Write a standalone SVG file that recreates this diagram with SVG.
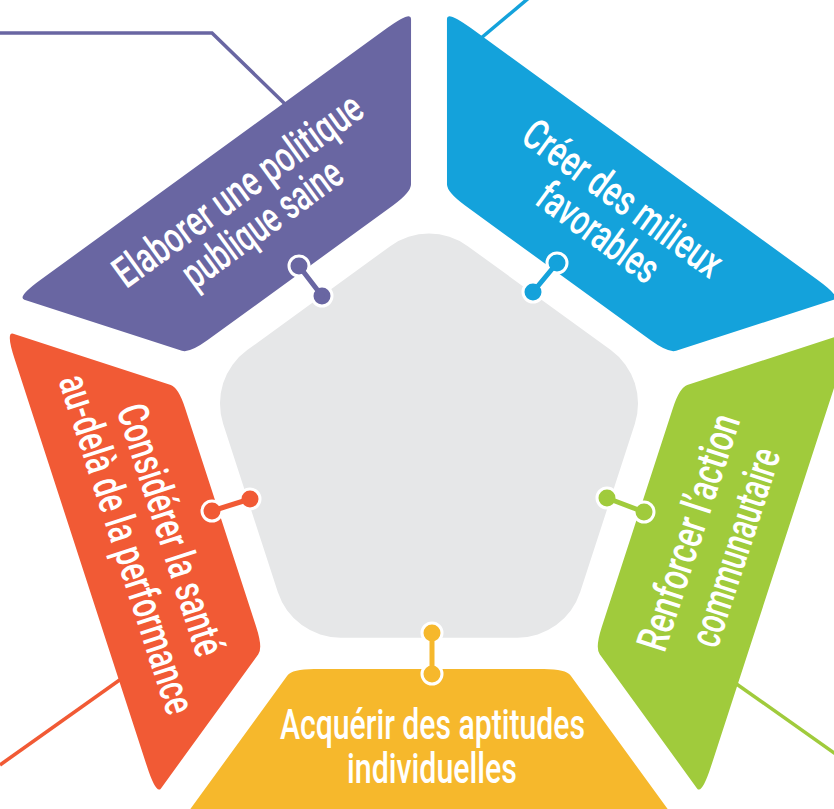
<svg xmlns="http://www.w3.org/2000/svg" xmlns:xlink="http://www.w3.org/1999/xlink" width="834" height="809" viewBox="0 0 834 809">
<defs>
<style>
.lbl{font-family:Roboto,"Liberation Sans",sans-serif;font-size:43px;font-weight:500;fill:#ffffff;text-anchor:middle}
.lead{fill:none;stroke-width:3.5}
.bar{stroke-width:5;stroke-linecap:round}
.dot{stroke:#ffffff;stroke-width:3}
</style>
<path id="seg" d="M 314.1,669 L 543.9,669 Q 565.9,669 570.6,675.5 L 668,809.5 Q 672.7,816 642.7,816 L 215.3,816 Q 185.3,816 190,809.5 L 287.4,675.5 Q 292.1,669 314.1,669 Z"/>
</defs>
<rect width="834" height="809" fill="#ffffff"/>
<g id="leaders">
<path class="lead" stroke="#6966a2" d="M0,33 H212 L285,104"/>
<path class="lead" stroke="#14a2db" d="M474,44 L530,-3"/>
<path class="lead" stroke="#f15a35" d="M0,765 L128,674"/>
<path class="lead" stroke="#a0cb3c" d="M728,678 L840,757"/>
</g>
<g id="centre">
<path fill="#e6e7e8" d="M467.8,246.2 L610.8,350.1 A66,66 0 0 1 634.8,423.9 L580.2,592.1 A66,66 0 0 1 517.4,637.7 L340.6,637.7 A66,66 0 0 1 277.8,592.1 L223.2,423.9 A66,66 0 0 1 247.2,350.1 L390.2,246.2 A66,66 0 0 1 467.8,246.2 Z"/>
</g>
<g id="politique">
<use xlink:href="#seg" fill="#6966a2" transform="rotate(144 429 450)"/>
<text class="lbl" font-size="42" transform="translate(246.4,202) rotate(-36)" textLength="297" lengthAdjust="spacingAndGlyphs">Elaborer une politique</text>
<text class="lbl" font-size="42" transform="translate(270.5,235.2) rotate(-36)" textLength="187" lengthAdjust="spacingAndGlyphs">publique saine</text>
</g>
<g id="milieux">
<use xlink:href="#seg" fill="#14a2db" transform="rotate(-144 429 450)"/>
<text class="lbl" font-size="42" transform="translate(614.4,210.2) rotate(36)" textLength="236" lengthAdjust="spacingAndGlyphs">Créer des milieux</text>
<text class="lbl" font-size="42" transform="translate(589.7,244.2) rotate(36)" textLength="140" lengthAdjust="spacingAndGlyphs">favorables</text>
</g>
<g id="action">
<use xlink:href="#seg" fill="#a0cb3c" transform="rotate(-72 429 450)"/>
<text class="lbl" font-size="43" transform="translate(702.5,536.8) rotate(-72)" textLength="246" lengthAdjust="spacingAndGlyphs">Renforcer l’action</text>
<text class="lbl" font-size="43" transform="translate(749.1,551.9) rotate(-72)" textLength="206" lengthAdjust="spacingAndGlyphs">communautaire</text>
</g>
<g id="aptitudes">
<use xlink:href="#seg" fill="#f6b82c"/>
<text class="lbl" x="432.5" y="739" textLength="305" lengthAdjust="spacingAndGlyphs">Acquérir des aptitudes</text>
<text class="lbl" x="432" y="783" textLength="170" lengthAdjust="spacingAndGlyphs">individuelles</text>
</g>
<g id="sante">
<use xlink:href="#seg" fill="#f15a35" transform="rotate(72 429 450)"/>
<text class="lbl" font-size="43" transform="translate(156.8,534.3) rotate(72)" textLength="262" lengthAdjust="spacingAndGlyphs">Considérer la santé</text>
<text class="lbl" font-size="43" transform="translate(113,548.5) rotate(72)" textLength="354" lengthAdjust="spacingAndGlyphs">au-delà de la performance</text>
</g>
<g id="connectors">
<g fill="#6966a2" stroke="#6966a2"><circle class="dot" cx="299" cy="266" r="10"/><circle class="dot" cx="322" cy="296" r="10"/><line class="bar" x1="299" y1="266" x2="322" y2="296"/></g>
<g fill="#14a2db" stroke="#14a2db"><circle class="dot" cx="557" cy="263" r="10"/><circle class="dot" cx="533" cy="292" r="10"/><line class="bar" x1="557" y1="263" x2="533" y2="292"/></g>
<g fill="#f15a35" stroke="#f15a35"><circle class="dot" cx="212" cy="511" r="10"/><circle class="dot" cx="250" cy="499" r="10"/><line class="bar" x1="212" y1="511" x2="250" y2="499"/></g>
<g fill="#a0cb3c" stroke="#a0cb3c"><circle class="dot" cx="607" cy="498" r="10"/><circle class="dot" cx="644" cy="512" r="10"/><line class="bar" x1="607" y1="498" x2="644" y2="512"/></g>
<g fill="#f6b82c" stroke="#f6b82c"><circle class="dot" cx="432" cy="633" r="10"/><circle class="dot" cx="432" cy="674" r="10"/><line class="bar" x1="432" y1="633" x2="432" y2="674"/></g>
</g>
</svg>
